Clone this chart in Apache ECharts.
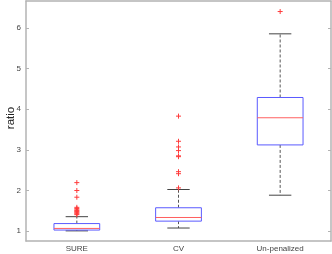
<!DOCTYPE html>
<html><head><meta charset="utf-8">
<script src="https://cdn.jsdelivr.net/npm/echarts@6/dist/echarts.min.js"></script>
<style>html,body{margin:0;padding:0;background:#fff}#c{width:332px;height:254px}</style>
</head><body><div id="c"></div>
<script>
var categories = ['SURE', 'CV', 'Un-penalized'];
var lowerWhisker = [1.00, 1.07, 1.88];
var q1 = [1.02, 1.24, 3.12];
var median = [1.06, 1.33, 3.79];
var q3 = [1.18, 1.57, 4.29];
var upperWhisker = [1.35, 2.02, 5.86];
var outliersSURE = [2.19, 1.995, 1.83, 1.58, 1.55, 1.52, 1.50, 1.48, 1.46, 1.44, 1.42, 1.40];
var outliersCV = [3.83, 3.21, 3.07, 2.98, 2.85, 2.83, 2.46, 2.41, 2.06];
var outliersUnpen = [6.41];
var yTicks = [1, 2, 3, 4, 5, 6];

var boxData = categories.map(function (c, i) {
  return [i, lowerWhisker[i], q1[i], median[i], q3[i], upperWhisker[i]];
});
var outlierData = [];
[outliersSURE, outliersCV, outliersUnpen].forEach(function (arr, i) {
  arr.forEach(function (v) { outlierData.push([i, v]); });
});

var font = 'Liberation Sans, Arial, sans-serif';
var axisCol = '#b3b3b3';

function renderBox(params, api) {
  var x = api.value(0);
  var band = api.size([1, 0])[0];
  var hw = band * 0.225, cw = band * 0.11;
  var pLow = api.coord([x, api.value(1)]);
  var pQ1 = api.coord([x, api.value(2)]);
  var pMed = api.coord([x, api.value(3)]);
  var pQ3 = api.coord([x, api.value(4)]);
  var pHigh = api.coord([x, api.value(5)]);
  var cx = pMed[0];
  var dash = { stroke: '#555', lineWidth: 1, lineDash: [3, 2] };
  var cap = { stroke: '#444', lineWidth: 1 };
  return {
    type: 'group',
    children: [
      { type: 'line', shape: { x1: cx, y1: pQ3[1], x2: cx, y2: pHigh[1] }, style: dash },
      { type: 'line', shape: { x1: cx, y1: pQ1[1], x2: cx, y2: pLow[1] }, style: dash },
      { type: 'line', shape: { x1: cx - cw, y1: pHigh[1], x2: cx + cw, y2: pHigh[1] }, style: cap },
      { type: 'line', shape: { x1: cx - cw, y1: pLow[1], x2: cx + cw, y2: pLow[1] }, style: cap },
      { type: 'rect', shape: { x: cx - hw, y: pQ3[1], width: 2 * hw, height: pQ1[1] - pQ3[1] },
        style: { fill: '#fff', stroke: '#5a5aff', lineWidth: 1 } },
      { type: 'line', shape: { x1: cx - hw, y1: pMed[1], x2: cx + hw, y2: pMed[1] },
        style: { stroke: '#ff6060', lineWidth: 1 } }
    ]
  };
}

function renderPlus(params, api) {
  var p = api.coord([api.value(0), api.value(1)]);
  var s = 2.5;
  var st = { stroke: '#ff3b3b', lineWidth: 1 };
  return {
    type: 'group',
    children: [
      { type: 'line', shape: { x1: p[0] - s, y1: p[1], x2: p[0] + s, y2: p[1] }, style: st },
      { type: 'line', shape: { x1: p[0], y1: p[1] - s, x2: p[0], y2: p[1] + s }, style: st }
    ]
  };
}

var chart = echarts.init(document.getElementById('c'), null, { renderer: 'canvas' });
chart.setOption({
  animation: false,
  grid: { left: 26, right: 1, top: 1, bottom: 13, containLabel: false, outerBoundsMode: 'none' },
  xAxis: [{
    type: 'category', data: categories, boundaryGap: true, position: 'bottom',
    axisLine: { lineStyle: { color: axisCol, width: 1.5 } },
    axisTick: { inside: true, alignWithLabel: true, length: 3, lineStyle: { color: axisCol } },
    axisLabel: { fontSize: 8, color: '#444', margin: 4, fontFamily: font },
    splitLine: { show: false }
  }, {
    type: 'category', data: categories, boundaryGap: true, position: 'top',
    axisLine: { lineStyle: { color: axisCol, width: 1.5 } },
    axisTick: { inside: true, alignWithLabel: true, length: 3, lineStyle: { color: axisCol } },
    axisLabel: { show: false }, splitLine: { show: false }
  }],
  yAxis: [{
    type: 'value', min: 0.75, max: 6.67,
    name: 'ratio', nameLocation: 'middle', nameGap: 9, nameMoveOverlap: false,
    nameTextStyle: { fontSize: 11.5, color: '#222', fontFamily: font, padding: [0, 0, 0, 6] },
    axisLine: { show: true, lineStyle: { color: axisCol, width: 1.5 } },
    axisTick: { show: true, inside: true, length: 3, lineStyle: { color: axisCol }, customValues: yTicks },
    axisLabel: { fontSize: 8, color: '#444', margin: 5, fontFamily: font, customValues: yTicks },
    splitLine: { show: false }
  }, {
    type: 'value', min: 0.75, max: 6.67, position: 'right',
    axisLine: { show: true, lineStyle: { color: axisCol, width: 1.5 } },
    axisTick: { show: true, inside: true, length: 3, lineStyle: { color: axisCol }, customValues: yTicks },
    axisLabel: { show: false, customValues: yTicks }, splitLine: { show: false }
  }],
  series: [{
    type: 'custom', renderItem: renderBox, data: boxData,
    encode: { x: 0, y: [1, 2, 3, 4, 5] }, xAxisIndex: 0, yAxisIndex: 0
  }, {
    type: 'custom', renderItem: renderPlus, data: outlierData,
    encode: { x: 0, y: 1 }, xAxisIndex: 0, yAxisIndex: 0
  }]
});
</script></body></html>
